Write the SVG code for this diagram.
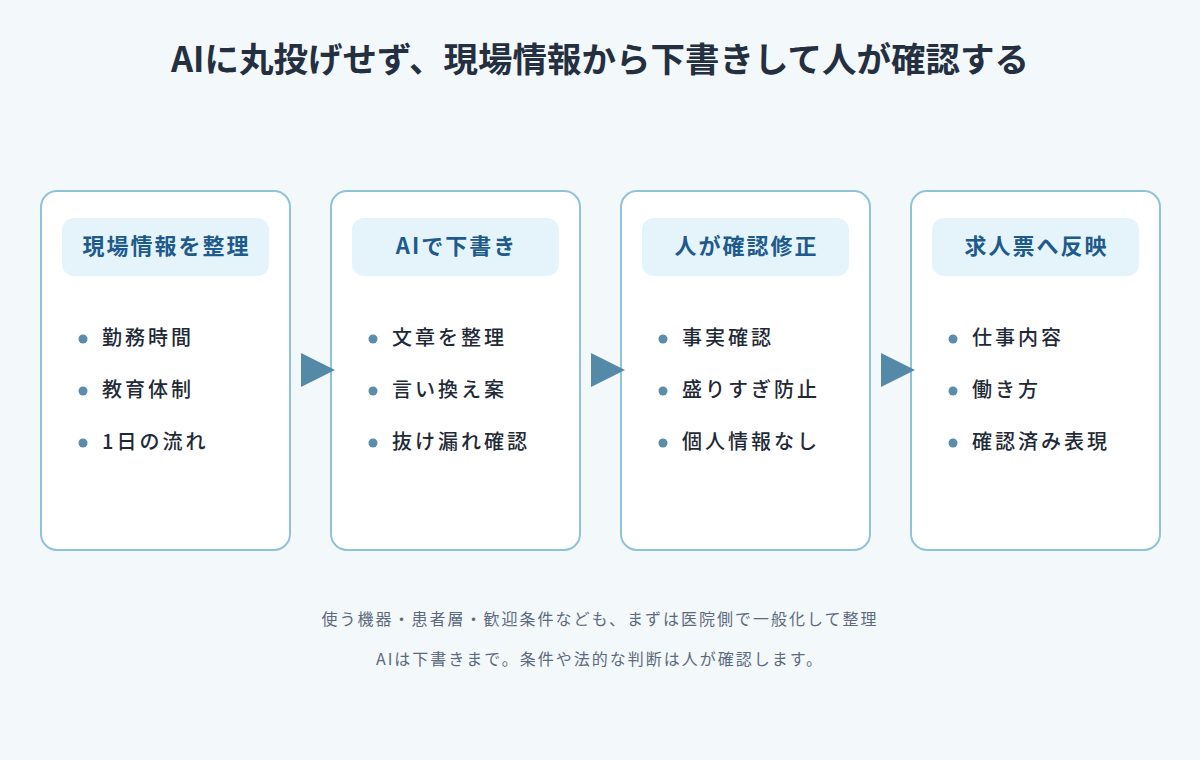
<svg xmlns="http://www.w3.org/2000/svg" width="1200" height="760" viewBox="0 0 1200 760">
<defs>
<style>
text{font-family:"Noto Sans CJK JP","Noto Sans",sans-serif;}
.title{font-size:34.5px;font-weight:700;fill:#243040;text-anchor:middle;}
.card{fill:#ffffff;stroke:#91c3d6;stroke-width:2;}
.pill{fill:#e5f4fa;}
.head{font-size:22px;font-weight:700;fill:#1e5a8c;text-anchor:middle;letter-spacing:2px;}
.item{font-size:20px;font-weight:500;fill:#1f2a37;letter-spacing:3px;}
.dot{fill:#5a8daa;}
.arrow{fill:#548aa8;}
.note{font-size:16px;fill:#5b6b7d;text-anchor:middle;letter-spacing:2px;}
</style>
</defs>
<rect width="1200" height="760" fill="#f3f8fb"/>
<text class="title" x="600" y="72">AIに丸投げせず、現場情報から下書きして人が確認する</text>

<g id="node1">
<rect class="card" x="41" y="191" width="249" height="359" rx="16"/>
<rect class="pill" x="62" y="218" width="207" height="58" rx="12"/>
<text class="head" x="166.5" y="254">現場情報を整理</text>
<circle class="dot" cx="83" cy="339" r="4.5"/><text class="item" x="102" y="345">勤務時間</text>
<circle class="dot" cx="83" cy="391" r="4.5"/><text class="item" x="102" y="397">教育体制</text>
<circle class="dot" cx="83" cy="443" r="4.5"/><text class="item" x="102" y="449">1日の流れ</text>
</g>

<g id="node2">
<rect class="card" x="331" y="191" width="249" height="359" rx="16"/>
<rect class="pill" x="352" y="218" width="207" height="58" rx="12"/>
<text class="head" x="456.5" y="254">AIで下書き</text>
<circle class="dot" cx="373" cy="339" r="4.5"/><text class="item" x="392" y="345">文章を整理</text>
<circle class="dot" cx="373" cy="391" r="4.5"/><text class="item" x="392" y="397">言い換え案</text>
<circle class="dot" cx="373" cy="443" r="4.5"/><text class="item" x="392" y="449">抜け漏れ確認</text>
</g>

<g id="node3">
<rect class="card" x="621" y="191" width="249" height="359" rx="16"/>
<rect class="pill" x="642" y="218" width="207" height="58" rx="12"/>
<text class="head" x="746.5" y="254">人が確認修正</text>
<circle class="dot" cx="663" cy="339" r="4.5"/><text class="item" x="682" y="345">事実確認</text>
<circle class="dot" cx="663" cy="391" r="4.5"/><text class="item" x="682" y="397">盛りすぎ防止</text>
<circle class="dot" cx="663" cy="443" r="4.5"/><text class="item" x="682" y="449">個人情報なし</text>
</g>

<g id="node4">
<rect class="card" x="911" y="191" width="249" height="359" rx="16"/>
<rect class="pill" x="932" y="218" width="207" height="58" rx="12"/>
<text class="head" x="1036.5" y="254">求人票へ反映</text>
<circle class="dot" cx="953" cy="339" r="4.5"/><text class="item" x="972" y="345">仕事内容</text>
<circle class="dot" cx="953" cy="391" r="4.5"/><text class="item" x="972" y="397">働き方</text>
<circle class="dot" cx="953" cy="443" r="4.5"/><text class="item" x="972" y="449">確認済み表現</text>
</g>

<g id="connectors">
<polygon class="arrow" points="301,353 335,370 301,387"/>
<polygon class="arrow" points="591,353 625,370 591,387"/>
<polygon class="arrow" points="881,353 915,370 881,387"/>
</g>

<text class="note" x="600" y="625">使う機器・患者層・歓迎条件なども、まずは医院側で一般化して整理</text>
<text class="note" x="600" y="665">AIは下書きまで。条件や法的な判断は人が確認します。</text>
</svg>
